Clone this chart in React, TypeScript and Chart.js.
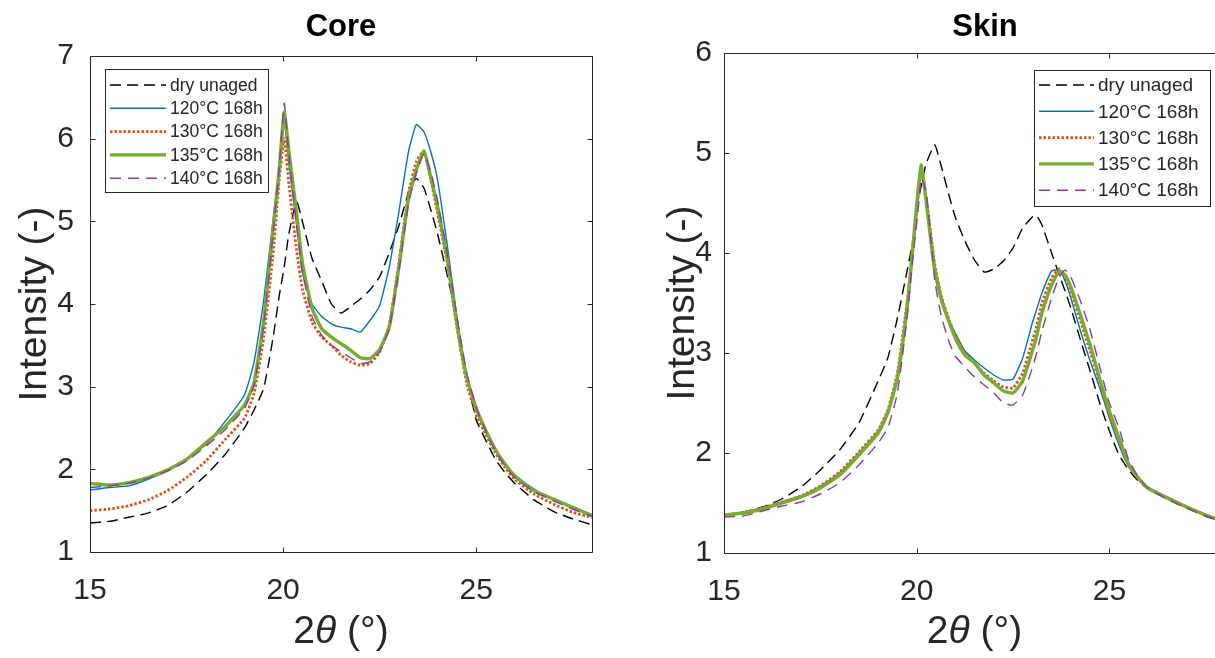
import React, { useEffect, useRef } from "react";
import { Chart, registerables } from "chart.js";

Chart.register(...registerables);

// ---------------- DATA ----------------
const seriesLabels = ["dry unaged", "120°C 168h", "130°C 168h", "135°C 168h", "140°C 168h"];
const xTicks = [15, 20, 25];
const coreYTicks = [1, 2, 3, 4, 5, 6, 7];
const skinYTicks = [1, 2, 3, 4, 5, 6];

const coreX = [15, 15.5, 16, 16.5, 17, 17.5, 18, 18.5, 19, 19.25, 19.5, 19.75, 19.9, 20.03, 20.15, 20.35, 20.5, 20.75, 21, 21.25, 21.5, 21.75, 22, 22.25, 22.5, 22.75, 23, 23.25, 23.45, 23.65, 23.85, 24, 24.25, 24.5, 24.75, 25, 25.25, 25.5, 25.75, 26, 26.5, 27, 27.5, 28];
const coreDry = [1.35, 1.37, 1.42, 1.47, 1.56, 1.72, 1.93, 2.18, 2.5, 2.72, 2.98, 3.62, 4.1, 4.45, 4.85, 5.24, 5.0, 4.55, 4.28, 4.0, 3.89, 3.97, 4.06, 4.17, 4.33, 4.62, 4.95, 5.35, 5.52, 5.4, 5.1, 4.85, 4.35, 3.8, 3.15, 2.6, 2.35, 2.12, 1.96, 1.83, 1.63, 1.49, 1.4, 1.33];
const core120 = [1.75, 1.78, 1.8, 1.88, 1.98, 2.12, 2.3, 2.58, 2.9, 3.3, 4.05, 5.05, 5.65, 6.2, 5.7, 4.95, 4.38, 4.0, 3.85, 3.76, 3.72, 3.7, 3.66, 3.8, 3.98, 4.45, 5.12, 5.85, 6.17, 6.08, 5.8, 5.5, 4.72, 3.85, 3.15, 2.75, 2.48, 2.25, 2.06, 1.93, 1.76, 1.63, 1.55, 1.45];
const core130 = [1.5, 1.52, 1.56, 1.63, 1.74, 1.9, 2.1, 2.36, 2.62, 2.92, 3.6, 4.65, 5.5, 6.0, 5.45, 4.65, 4.18, 3.78, 3.6, 3.5, 3.38, 3.3, 3.26, 3.28, 3.42, 3.75, 4.5, 5.35, 5.72, 5.85, 5.45, 5.1, 4.5, 3.72, 3.05, 2.66, 2.42, 2.2, 2.02, 1.88, 1.7, 1.58, 1.48, 1.42];
const core135 = [1.83, 1.81, 1.84, 1.9, 1.99, 2.12, 2.32, 2.52, 2.78, 3.05, 3.8, 4.95, 5.62, 6.32, 5.85, 5.1, 4.5, 3.95, 3.7, 3.6, 3.52, 3.44, 3.35, 3.34, 3.45, 3.72, 4.45, 5.28, 5.62, 5.85, 5.48, 5.18, 4.55, 3.77, 3.12, 2.74, 2.47, 2.24, 2.06, 1.92, 1.74, 1.64, 1.54, 1.44];
const core140 = [1.78, 1.8, 1.83, 1.89, 1.98, 2.1, 2.28, 2.48, 2.74, 3.02, 3.75, 4.9, 5.65, 6.43, 5.8, 4.95, 4.4, 3.85, 3.62, 3.5, 3.42, 3.35, 3.28, 3.3, 3.42, 3.7, 4.4, 5.22, 5.58, 5.82, 5.55, 5.25, 4.62, 3.85, 3.18, 2.75, 2.46, 2.22, 2.04, 1.9, 1.73, 1.62, 1.52, 1.43];

const skinX = [15, 15.5, 16, 16.5, 17, 17.5, 18, 18.5, 19, 19.25, 19.5, 19.75, 19.9, 20.03, 20.12, 20.25, 20.47, 20.65, 20.85, 21, 21.25, 21.5, 21.75, 22, 22.25, 22.5, 22.75, 23, 23.1, 23.25, 23.5, 23.7, 23.85, 24, 24.25, 24.5, 24.75, 25, 25.25, 25.5, 25.75, 26, 26.5, 27, 27.5, 28];
const skinDry = [1.38, 1.41, 1.46, 1.54, 1.66, 1.83, 2.03, 2.3, 2.72, 2.95, 3.35, 3.82, 4.12, 4.5, 4.68, 4.9, 5.08, 4.85, 4.56, 4.36, 4.12, 3.93, 3.81, 3.84, 3.92, 4.05, 4.25, 4.36, 4.38, 4.28, 4.0, 3.78, 3.62, 3.45, 3.13, 2.82, 2.5, 2.22, 1.98, 1.83, 1.72, 1.64, 1.54, 1.45, 1.37, 1.3];
const skin120 = [1.38, 1.4, 1.44, 1.51, 1.57, 1.67, 1.8, 2.0, 2.22, 2.42, 2.78, 3.45, 4.0, 4.5, 4.8, 4.55, 3.88, 3.55, 3.32, 3.2, 3.02, 2.93, 2.85, 2.78, 2.73, 2.74, 2.95, 3.3, 3.42, 3.6, 3.82, 3.83, 3.72, 3.55, 3.22, 2.92, 2.65, 2.35, 2.08, 1.86, 1.74, 1.66, 1.56, 1.47, 1.38, 1.31];
const skin130 = [1.38, 1.4, 1.45, 1.51, 1.57, 1.67, 1.81, 2.01, 2.23, 2.43, 2.8, 3.5, 4.05, 4.55, 4.82, 4.55, 3.88, 3.55, 3.32, 3.18, 3.0, 2.9, 2.8, 2.72, 2.66, 2.65, 2.8, 3.12, 3.25, 3.5, 3.75, 3.84, 3.76, 3.62, 3.32, 3.02, 2.7, 2.38, 2.12, 1.88, 1.75, 1.65, 1.55, 1.46, 1.38, 1.31];
const skin135 = [1.38, 1.4, 1.44, 1.5, 1.56, 1.65, 1.78, 1.98, 2.2, 2.4, 2.75, 3.45, 4.05, 4.6, 4.88, 4.5, 3.82, 3.52, 3.3, 3.15, 2.98, 2.9, 2.78, 2.7, 2.62, 2.6, 2.72, 3.02, 3.15, 3.4, 3.68, 3.82, 3.78, 3.66, 3.38, 3.08, 2.74, 2.42, 2.15, 1.89, 1.75, 1.65, 1.55, 1.46, 1.38, 1.31];
const skin140 = [1.36, 1.37, 1.42, 1.47, 1.51, 1.59, 1.7, 1.88, 2.1, 2.25, 2.6, 3.35, 3.95, 4.4, 4.75, 4.6, 3.72, 3.35, 3.1, 2.97, 2.86, 2.76, 2.68, 2.6, 2.5, 2.48, 2.58, 2.85, 2.98, 3.22, 3.55, 3.76, 3.83, 3.76, 3.52, 3.23, 2.86, 2.5, 2.25, 1.93, 1.76, 1.65, 1.54, 1.45, 1.37, 1.3];

// ---------------- STYLE ----------------
const FONT = "'Liberation Sans', Arial, Helvetica, sans-serif";
const AXIS_COLOR = "#262626";
const seriesStyles = [
  { color: "#000000", width: 1.4, dash: [11, 6] },
  { color: "#0072BD", width: 1.4, dash: [] },
  { color: "#D95319", width: 2.8, dash: [2.5, 2] },
  { color: "#77AC30", width: 3.4, dash: [] },
  { color: "#8E3A9E", width: 1.4, dash: [11, 7] },
];

type PanelCfg = {
  title: string;
  x: number[];
  series: number[][];
  yMax: number;
  yTicks: number[];
  canvasLeft: number;
  canvasWidth: number;
  areaLeft: number;
  areaRight: number;
  areaTop: number;
  areaBottom: number;
  yTickPad: number;
  xTickPad: number;
  tickFont: number;
  labelFont: number;
  titleFont: number;
  yTitleX: number;
  xTitleY: number;
  titleY: number;
  titleX?: number;
  legend: { x: number; y: number; w: number; h: number; row0: number; rowH: number; sample: number; font: number };
};

const H = 658;

const panels: PanelCfg[] = [
  {
    title: "Core",
    x: coreX,
    series: [coreDry, core120, core130, core135, core140],
    yMax: 7,
    yTicks: coreYTicks,
    canvasLeft: 0,
    canvasWidth: 605,
    areaLeft: 90,
    areaRight: 592,
    areaTop: 56,
    areaBottom: 552,
    yTickPad: 16,
    xTickPad: 21,
    tickFont: 30,
    labelFont: 39,
    titleFont: 31,
    yTitleX: 35,
    xTitleY: 632,
    titleY: 27,
    legend: { x: 105, y: 69, w: 163, h: 123, row0: 85, rowH: 23.3, sample: 56, font: 17.5 },
  },
  {
    title: "Skin",
    x: skinX,
    series: [skinDry, skin120, skin130, skin135, skin140],
    yMax: 6,
    yTicks: skinYTicks,
    canvasLeft: 610,
    canvasWidth: 625,
    areaLeft: 724,
    areaRight: 1225,
    areaTop: 53,
    areaBottom: 553,
    yTickPad: 12,
    xTickPad: 21,
    tickFont: 30,
    labelFont: 39,
    titleFont: 31,
    yTitleX: 683,
    xTitleY: 632,
    titleY: 27,
    titleX: 985,
    legend: { x: 1034, y: 70, w: 176, h: 136, row0: 85, rowH: 26.3, sample: 55, font: 19 },
  },
];

function makeDecorPlugin(p: PanelCfg) {
  const off = p.canvasLeft;
  return {
    id: "matlabDecor",
    afterDraw(chart: any) {
      const ctx: CanvasRenderingContext2D = chart.ctx;
      const a = chart.chartArea;
      const xs = chart.scales.x;
      const ys = chart.scales.y;
      ctx.save();
      ctx.strokeStyle = AXIS_COLOR;
      ctx.lineWidth = 1;
      ctx.setLineDash([]);
      const L = Math.round(a.left) + 0.5;
      const R = Math.round(a.right) + 0.5;
      const T = Math.round(a.top) + 0.5;
      const B = Math.round(a.bottom) + 0.5;
      ctx.beginPath();
      ctx.moveTo(L, T);
      ctx.lineTo(R, T);
      ctx.lineTo(R, B);
      ctx.lineTo(L, B);
      ctx.closePath();
      ctx.stroke();
      const tl = 5;
      ctx.beginPath();
      xTicks.forEach((v) => {
        const px = Math.round(xs.getPixelForValue(v)) + 0.5;
        ctx.moveTo(px, B);
        ctx.lineTo(px, B - tl);
        ctx.moveTo(px, T);
        ctx.lineTo(px, T + tl);
      });
      p.yTicks.forEach((v) => {
        const py = Math.round(ys.getPixelForValue(v)) + 0.5;
        ctx.moveTo(L, py);
        ctx.lineTo(L + tl, py);
        ctx.moveTo(R, py);
        ctx.lineTo(R - tl, py);
      });
      ctx.stroke();

      ctx.fillStyle = "#000000";
      ctx.font = `bold ${p.titleFont}px ${FONT}`;
      ctx.textAlign = "center";
      ctx.textBaseline = "middle";
      const tx = p.titleX !== undefined ? p.titleX - off : (a.left + a.right) / 2;
      ctx.fillText(p.title, tx, p.titleY);

      ctx.fillStyle = AXIS_COLOR;
      const cx = (a.left + a.right) / 2;
      const normal = `${p.labelFont}px ${FONT}`;
      const italic = `italic ${p.labelFont}px ${FONT}`;
      const parts: [string, string][] = [["2", normal], ["θ", italic], [" (°)", normal]];
      let total = 0;
      parts.forEach(([t, f]) => {
        ctx.font = f;
        total += ctx.measureText(t).width;
      });
      let x0 = cx - total / 2;
      ctx.textAlign = "left";
      parts.forEach(([t, f]) => {
        ctx.font = f;
        ctx.fillText(t, x0, p.xTitleY);
        x0 += ctx.measureText(t).width;
      });

      ctx.save();
      ctx.translate(p.yTitleX - off, (a.top + a.bottom) / 2);
      ctx.rotate(-Math.PI / 2);
      ctx.font = normal;
      ctx.textAlign = "center";
      ctx.textBaseline = "middle";
      ctx.fillText("Intensity (-)", 0, 0);
      ctx.restore();

      const lg = p.legend;
      const lx = lg.x - off;
      ctx.fillStyle = "#ffffff";
      ctx.fillRect(lx, lg.y, lg.w, lg.h);
      ctx.strokeStyle = AXIS_COLOR;
      ctx.lineWidth = 1;
      ctx.setLineDash([]);
      ctx.strokeRect(Math.round(lx) + 0.5, Math.round(lg.y) + 0.5, lg.w, lg.h);
      ctx.font = `${lg.font}px ${FONT}`;
      ctx.textAlign = "left";
      ctx.textBaseline = "middle";
      seriesLabels.forEach((label, i) => {
        const st = seriesStyles[i];
        const ry = lg.row0 + i * lg.rowH;
        ctx.strokeStyle = st.color;
        ctx.lineWidth = st.width;
        ctx.setLineDash(st.dash);
        ctx.beginPath();
        ctx.moveTo(lx + 5, ry);
        ctx.lineTo(lx + 5 + lg.sample, ry);
        ctx.stroke();
        ctx.setLineDash([]);
        ctx.fillStyle = AXIS_COLOR;
        ctx.fillText(label, lx + 5 + lg.sample + 4, ry + 1);
      });
      ctx.restore();
    },
  };
}

function Panel({ p }: { p: PanelCfg }) {
  const ref = useRef<HTMLCanvasElement | null>(null);
  useEffect(() => {
    if (!ref.current) return;
    const datasets = p.series.map((ys, i) => ({
      label: seriesLabels[i],
      data: p.x.map((x, j) => ({ x, y: ys[j] })),
      borderColor: seriesStyles[i].color,
      backgroundColor: seriesStyles[i].color,
      borderWidth: seriesStyles[i].width,
      borderDash: seriesStyles[i].dash,
      pointRadius: 0,
      fill: false,
      tension: 0.15,
      order: p.series.length - 1 - i,
    }));
    const chart = new Chart(ref.current, {
      type: "line",
      data: { datasets },
      options: {
        responsive: false,
        animation: false,
        devicePixelRatio: 1,
        events: [],
        layout: {
          padding: {
            left: 0,
            top: p.areaTop,
            right: p.canvasWidth - (p.areaRight - p.canvasLeft),
            bottom: 0,
          },
        },
        plugins: {
          legend: { display: false },
          title: { display: false },
          tooltip: { enabled: false },
        },
        scales: {
          x: {
            type: "linear",
            min: 15,
            max: 28,
            grid: { display: false, drawTicks: false },
            border: { display: false },
            ticks: {
              color: AXIS_COLOR,
              font: { family: FONT, size: p.tickFont },
              padding: p.xTickPad,
              maxRotation: 0,
              autoSkip: false,
            },
            afterBuildTicks: (s: any) => {
              s.ticks = xTicks.map((v) => ({ value: v }));
            },
            afterFit: (s: any) => {
              s.height = H - p.areaBottom;
            },
          },
          y: {
            type: "linear",
            min: 1,
            max: p.yMax,
            grid: { display: false, drawTicks: false },
            border: { display: false },
            ticks: {
              color: AXIS_COLOR,
              font: { family: FONT, size: p.tickFont },
              padding: p.yTickPad,
              autoSkip: false,
            },
            afterBuildTicks: (s: any) => {
              s.ticks = p.yTicks.map((v) => ({ value: v }));
            },
            afterFit: (s: any) => {
              s.width = p.areaLeft - p.canvasLeft;
            },
          },
        },
      } as any,
      plugins: [makeDecorPlugin(p)],
    });
    return () => chart.destroy();
  }, [p]);
  return (
    <canvas
      ref={ref}
      width={p.canvasWidth}
      height={H}
      style={{ position: "absolute", left: p.canvasLeft, top: 0, width: p.canvasWidth, height: H }}
    />
  );
}

export default function App() {
  return (
    <div
      style={{
        position: "fixed",
        left: 0,
        top: 0,
        width: 1215,
        height: H,
        overflow: "hidden",
        background: "#ffffff",
      }}
    >
      {panels.map((p) => (
        <Panel key={p.title} p={p} />
      ))}
    </div>
  );
}
